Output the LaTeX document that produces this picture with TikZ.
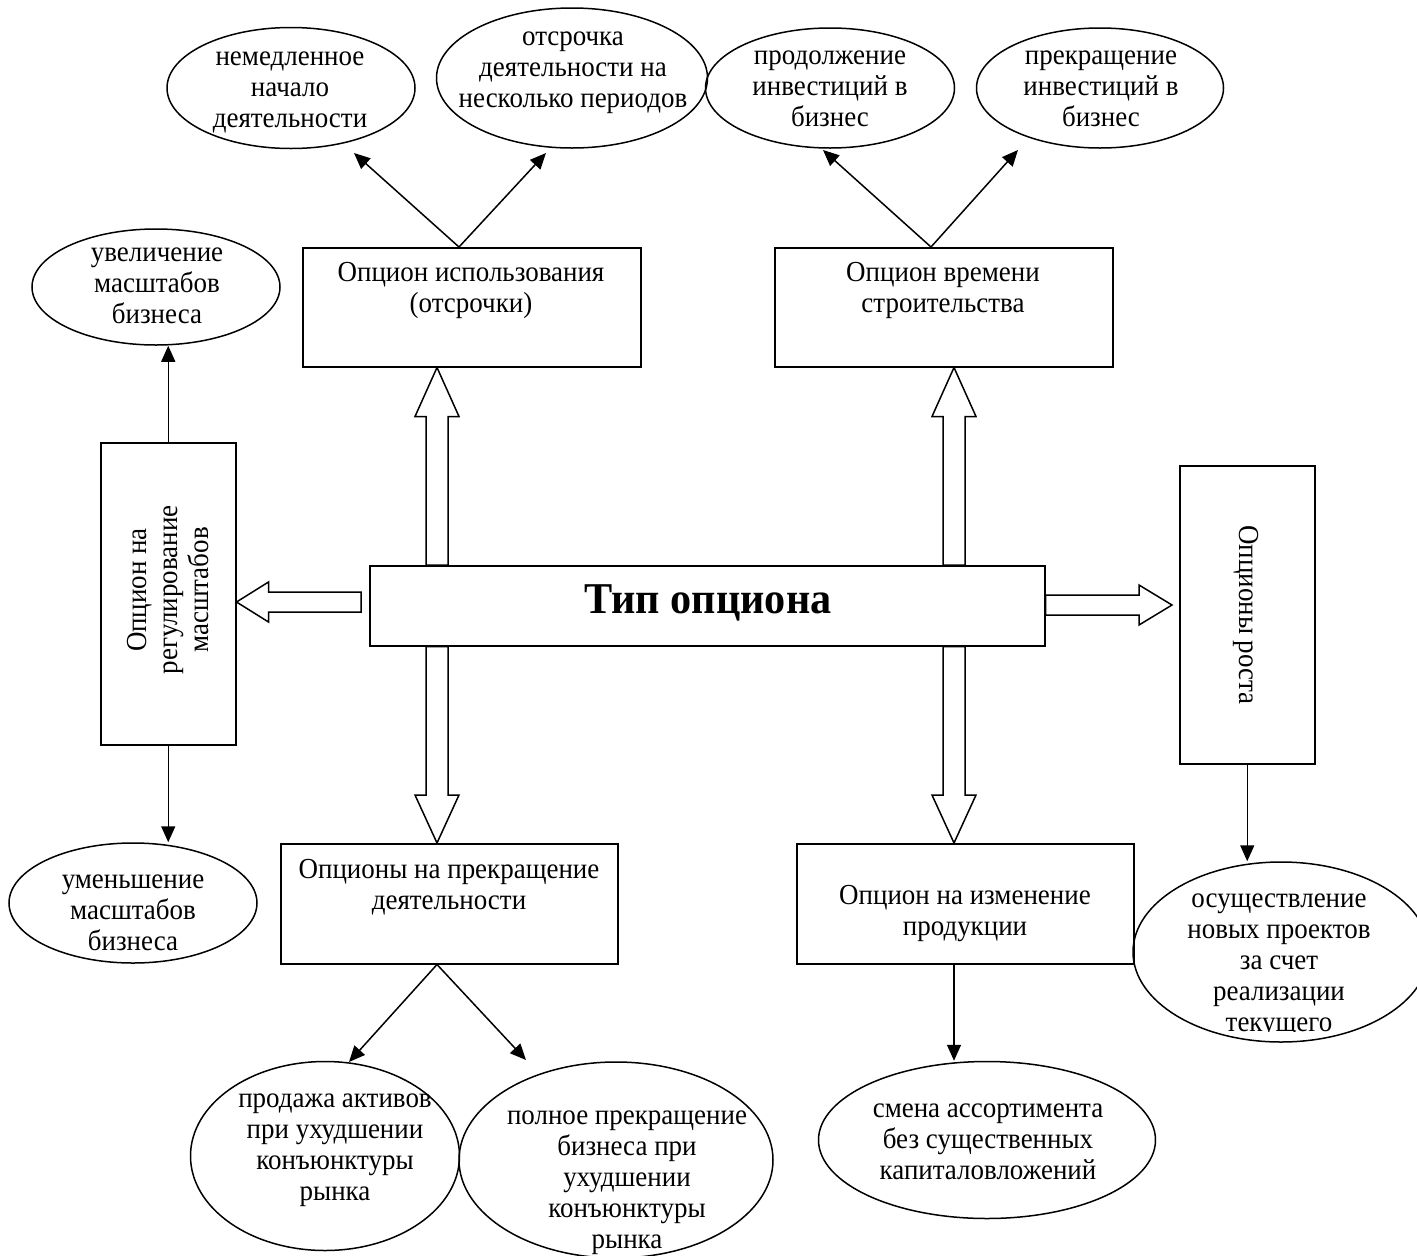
\documentclass[tikz,border=0pt]{standalone}
\usepackage{fontspec}
\setmainfont{Liberation Serif}[FakeStretch=0.93]
\newfontfamily\titlefont{Liberation Serif}[FakeStretch=0.96]
\usetikzlibrary{shapes.geometric,calc,arrows.meta}

\tikzset{
  box/.style={draw, line width=1.5pt, rectangle, inner sep=0pt},
  oval/.style={draw, line width=1.5pt, ellipse, inner sep=0pt},
  txt/.style={align=center, inner sep=0pt, font=\fontsize{29}{31}\selectfont},
  link/.style={line width=1.5pt, -{Triangle[length=16pt,width=14pt]}},
  hollow/.style={draw, line width=1.5pt, fill=white, line join=miter},
}

% open block arrow from #1 (tail) to #2 (tip):
% #3 half shaft width, #4 half head width, #5 head length
\newcommand\hollowarrow[5]{%
  \coordinate (ha-h) at ($(#2)!#5!(#1)$);
  \draw[hollow] ($(#1)!#3!-90:(#2)$) -- ($(ha-h)!#3!90:(#1)$)
    -- ($(ha-h)!#4!90:(#1)$) -- (#2) -- ($(ha-h)!#4!-90:(#1)$)
    -- ($(ha-h)!#3!-90:(#1)$) -- ($(#1)!#3!90:(#2)$) -- cycle;
}

\begin{document}
\begin{tikzpicture}[x=1pt,y=-1pt]
\useasboundingbox (0,0) rectangle (1417,1256);

% central box
\node[box, minimum width=675pt, minimum height=80pt, anchor=north west] (c) at (369,565) {};
\node[inner sep=0pt, font=\titlefont\fontsize{44}{48}\selectfont\bfseries] (ct) at (708,603) {Тип опциона};

% option boxes
\node[box, minimum width=338pt, minimum height=119pt, anchor=north west] (b1) at (302,247) {};
\node[txt] (b1t) at (471,290) {Опцион использования\\(отсрочки)};
\node[box, minimum width=338pt, minimum height=119pt, anchor=north west] (b2) at (774,247) {};
\node[txt] (b2t) at (943,290) {Опцион времени\\строительства};
\node[box, minimum width=337pt, minimum height=120pt, anchor=north west] (b3) at (280,843) {};
\node[txt] (b3t) at (449,887) {Опционы на прекращение\\деятельности};
\node[box, minimum width=337pt, minimum height=120pt, anchor=north west] (b4) at (796,843) {};
\node[txt] (b4t) at (965,914) {Опцион на изменение\\продукции};
\node[box, minimum width=135pt, minimum height=302pt, anchor=north west] (b5) at (100,442) {};
\node[txt, rotate=90] (b5t) at (168,590) {Опцион на\\регулирование\\масштабов};
\node[box, minimum width=135pt, minimum height=298pt, anchor=north west] (b6) at (1179,465) {};
\node[txt, rotate=-90] (b6t) at (1246,615) {Опционы роста};

% outcome ovals
\node[oval, minimum width=248pt, minimum height=121pt] (e1) at (291,88) {};
\node[txt] (e1t) at (290,92) {немедленное\\начало\\деятельности};
\node[oval, minimum width=271pt, minimum height=140pt] (e2) at (572,78) {};
\node[txt] (e2t) at (573,73) {отсрочка\\деятельности на\\несколько периодов};
\node[oval, minimum width=249pt, minimum height=120pt] (e3) at (830,88) {};
\node[txt] (e3t) at (830,89) {продолжение\\инвестиций в\\бизнес};
\node[oval, minimum width=247pt, minimum height=120pt] (e4) at (1100,88) {};
\node[txt] (e4t) at (1101,89) {прекращение\\инвестиций в\\бизнес};
\node[oval, minimum width=248pt, minimum height=116pt] (e5) at (156,287) {};
\node[txt] (e5t) at (157,286) {увеличение\\масштабов\\бизнеса};
\node[oval, minimum width=248pt, minimum height=120pt] (e6) at (133,903) {};
\node[txt] (e6t) at (133,913) {уменьшение\\масштабов\\бизнеса};
\node[oval, minimum width=269pt, minimum height=189pt] (e7) at (325,1156) {};
\node[txt] (e7t) at (335,1150) {продажа активов\\при ухудшении\\конъюнктуры\\рынка};
\node[oval, minimum width=314pt, minimum height=196pt] (e8) at (616,1160) {};
\node[txt] (e8t) at (627,1183) {полное прекращение\\бизнеса при\\ухудшении\\конъюнктуры\\рынка};
\node[oval, minimum width=337pt, minimum height=157pt] (e9) at (987,1140) {};
\node[txt] (e9t) at (988,1142) {смена ассортимента\\без существенных\\капиталовложений};
\node[oval, minimum width=296pt, minimum height=180pt] (e10) at (1281,952) {};
\begin{scope}
  % the text frame inside the oval cuts off the last line
  \clip (1133,862) rectangle (1417,1031);
  \node[txt] (e10t) at (1279,966) {осуществление\\новых проектов\\за счет\\реализации\\текущего};
\end{scope}

% columns and rows of the block arrows
\coordinate (colL) at (437,0);
\coordinate (colR) at (954,0);
\coordinate (rowL) at (0,602);
\coordinate (rowR) at (0,605);
\coordinate (tailL) at (361,602);
\coordinate (tipR) at (1172,605);

\hollowarrow{colL |- c.north}{colL |- b1.south}{11pt}{22pt}{49pt}
\hollowarrow{colR |- c.north}{colR |- b2.south}{11pt}{22pt}{49pt}
\hollowarrow{colL |- c.south}{colL |- b3.north}{11pt}{22pt}{48pt}
\hollowarrow{colR |- c.south}{colR |- b4.north}{11pt}{22pt}{48pt}
\hollowarrow{tailL}{b5.east |- rowL}{10pt}{20pt}{32pt}
\hollowarrow{c.east |- rowR}{tipR}{10pt}{20pt}{33pt}

% thin arrows to the ovals
\coordinate (s1) at (459,0);
\coordinate (s2) at (931,0);
\coordinate (t1) at (354,153);
\coordinate (t2) at (546,153);
\coordinate (t3) at (823,150);
\coordinate (t4) at (1018,150);
\coordinate (t7) at (349,1062);
\coordinate (t8) at (526,1060);

\draw[link] (s1 |- b1.north) -- (t1);
\draw[link] (s1 |- b1.north) -- (t2);
\draw[link] (s2 |- b2.north) -- (t3);
\draw[link] (s2 |- b2.north) -- (t4);
\draw[link] (b5.north) -- (b5.north |- e5.south);
\draw[link] (b5.south) -- (b5.south |- e6.north);
\draw[link] (colL |- b3.south) -- (t7);
\draw[link] (colL |- b3.south) -- (t8);
\draw[link] (colR |- b4.south) -- (colR |- e9.north);
\draw[link] (b6.south) -- (b6.south |- e10.north);
\end{tikzpicture}
\end{document}
